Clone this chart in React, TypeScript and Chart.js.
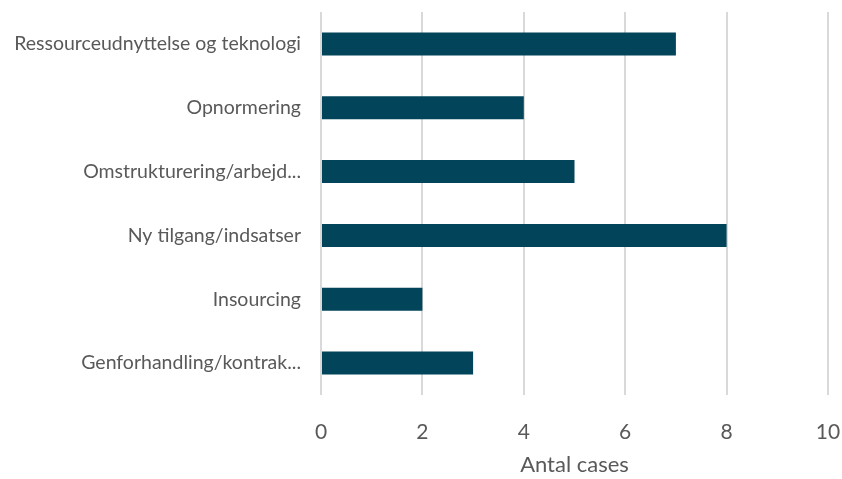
import React, { useEffect, useRef } from "react";
import { Chart, registerables } from "chart.js";

Chart.register(...registerables);

const categories = [
  "Ressourceudnyttelse og teknologi",
  "Opnormering",
  "Omstrukturering/arbejd...",
  "Ny tilgang/indsatser",
  "Insourcing",
  "Genforhandling/kontrak...",
];
const values = [7, 4, 5, 8, 2, 3];
const xMin = 0;
const xMax = 10;
const xStep = 2;
const xTitle = "Antal cases";

const FONT = "Lato, 'Open Sans', sans-serif";
const TEXT = "#595959";

export default function App() {
  const ref = useRef<HTMLCanvasElement | null>(null);

  useEffect(() => {
    document.body.style.margin = "0";
    const ctx = ref.current;
    if (!ctx) return;
    const chart = new Chart(ctx, {
      type: "bar",
      data: {
        labels: categories,
        datasets: [
          {
            data: values,
            backgroundColor: "#02455A",
            borderWidth: 0,
            categoryPercentage: 1,
            barPercentage: 0.36,
          },
        ],
      },
      options: {
        indexAxis: "y",
        animation: false,
        responsive: false,
        maintainAspectRatio: false,
        layout: { padding: { top: 12, right: 14, bottom: 0, left: 0 } },
        plugins: { legend: { display: false }, tooltip: { enabled: false } },
        scales: {
          x: {
            min: xMin,
            max: xMax,
            ticks: {
              stepSize: xStep,
              color: TEXT,
              font: { family: FONT, size: 21 },
              padding: 25,
            },
            grid: { color: "#D9D9D9", lineWidth: 2, drawTicks: false },
            border: { display: false },
            title: {
              display: true,
              text: xTitle,
              color: TEXT,
              font: { family: FONT, size: 22 },
              padding: { top: 4, bottom: 1 },
            },
            afterFit: (scale: any) => {
              scale.height = 84;
              scale.paddingLeft = 0;
              scale.paddingRight = 0;
            },
          },
          y: {
            ticks: {
              color: TEXT,
              font: { family: FONT, size: 19.5 },
              padding: 20,
            },
            grid: { display: false, drawTicks: false },
            border: { display: false },
            afterFit: (scale: any) => {
              scale.width = 321;
              scale.paddingTop = 0;
              scale.paddingBottom = 0;
            },
          },
        },
      },
    });
    return () => chart.destroy();
  }, []);

  return (
    <div style={{ position: "absolute", left: 0, top: 0, width: 842, height: 479, background: "#fff" }}>
      <canvas ref={ref} width={842} height={479} />
    </div>
  );
}
